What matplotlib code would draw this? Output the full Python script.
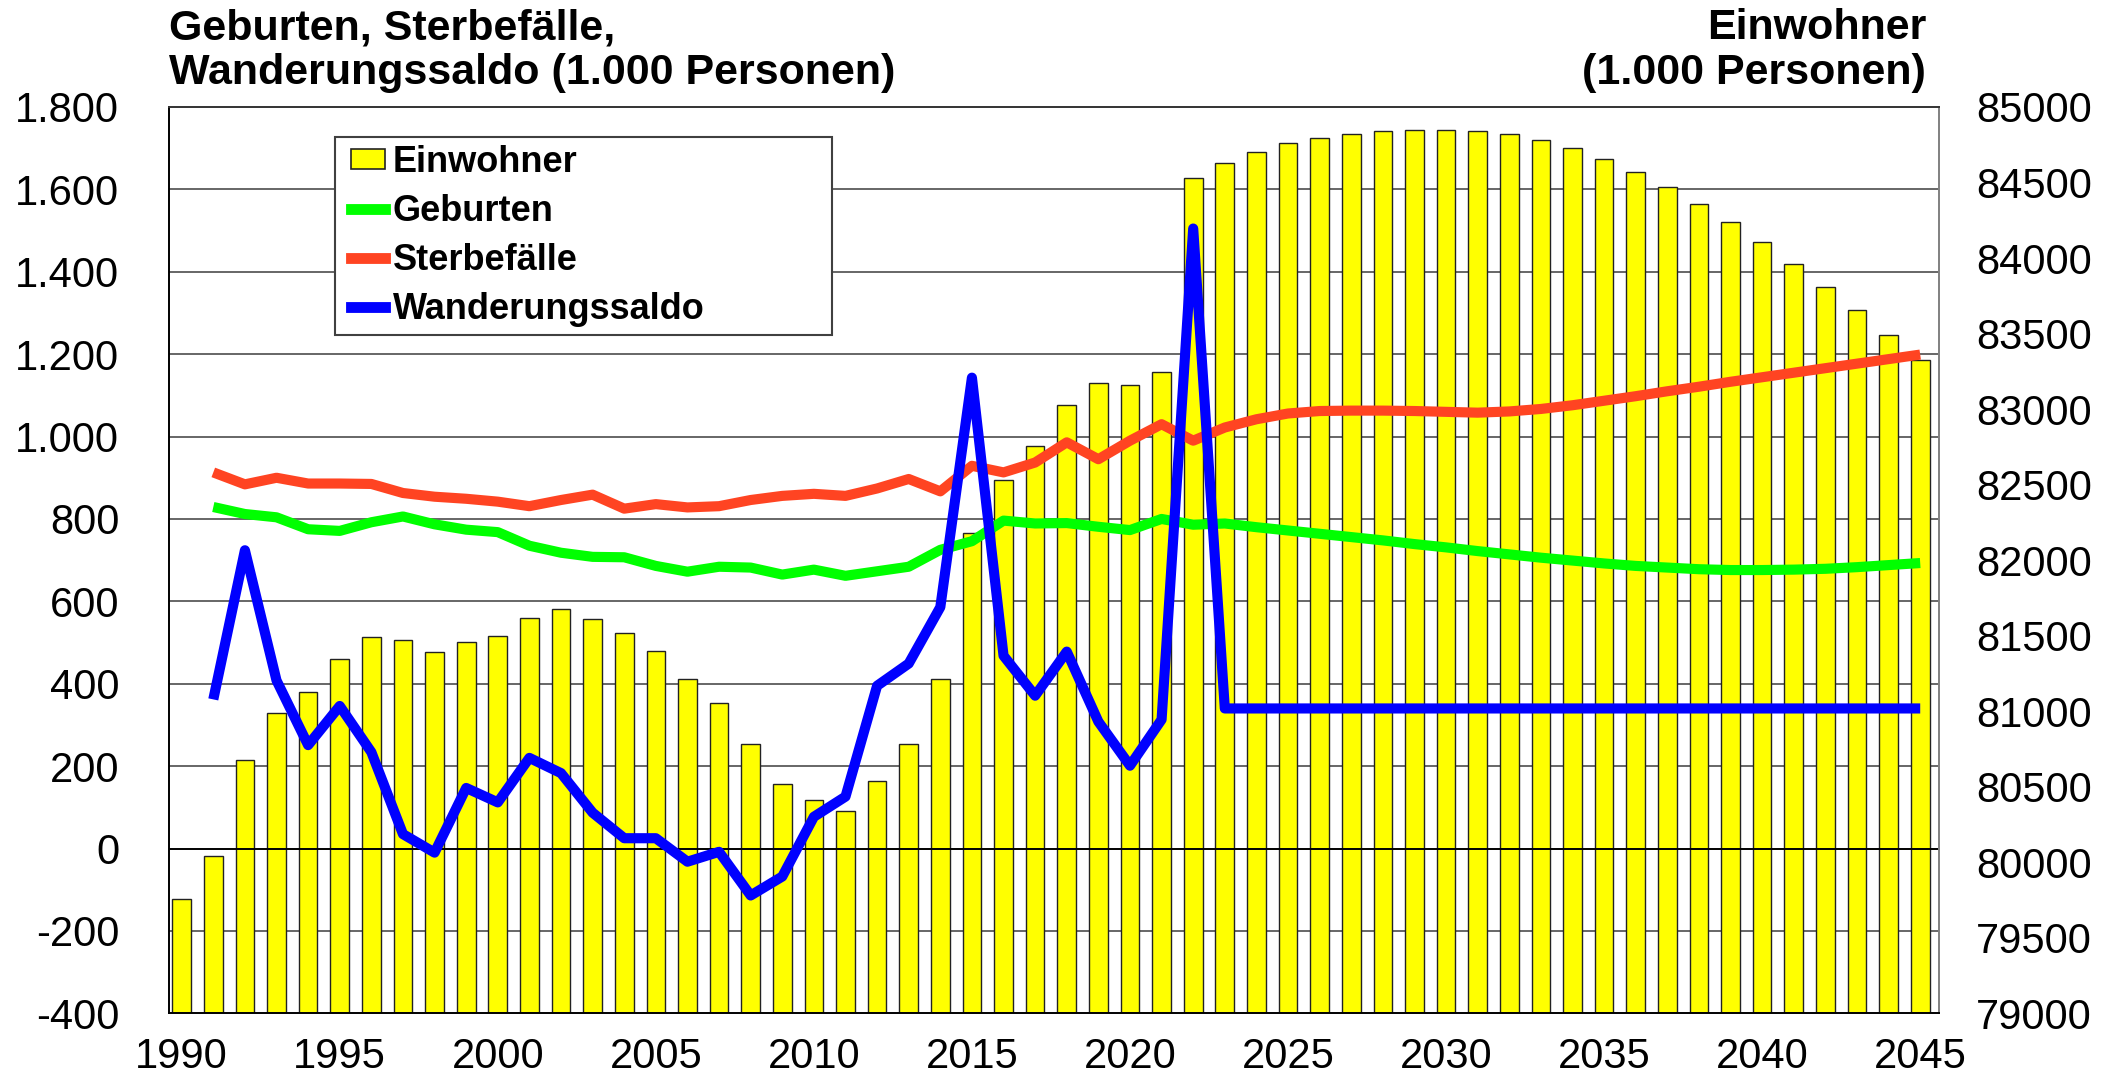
import matplotlib
matplotlib.use('Agg')
import matplotlib.pyplot as plt
import matplotlib.transforms as mtransforms
from matplotlib.lines import Line2D
from matplotlib.patches import Patch
from matplotlib.legend_handler import HandlerPatch, HandlerLine2D
from matplotlib.ticker import FuncFormatter

# ---------------- data ----------------
years = list(range(1990, 2046))
einwohner = [79760, 80040, 80680, 80990, 81125, 81345, 81490, 81470, 81390, 81455,
             81495, 81620, 81675, 81610, 81520, 81400, 81215, 81055, 80780, 80520,
             80410, 80340, 80540, 80780, 81215, 82180, 82530, 82755, 83025, 83170,
             83160, 83245, 84528, 84627, 84705, 84762, 84797, 84824, 84838, 84845,
             84845, 84838, 84820, 84780, 84727, 84656, 84570, 84473, 84358, 84237,
             84103, 83960, 83811, 83655, 83491, 83322]

line_years = list(range(1991, 2046))
geburten = [829, 812, 804, 775, 771, 792, 806, 787, 774, 768,
            735, 718, 708, 707, 686, 672, 684, 682, 665, 677,
            662, 673, 684, 725, 746, 796, 789, 790, 781, 773,
            800, 786, 789, 780, 772, 764, 756, 748, 739, 731,
            722, 714, 706, 699, 692, 686, 682, 678, 676, 676,
            677, 679, 683, 688, 693]
sterbefaelle = [913, 884, 900, 886, 886, 885, 863, 854, 849, 842,
                831, 846, 859, 825, 836, 828, 831, 846, 856, 861,
                856, 874, 897, 867, 929, 913, 937, 986, 945, 990,
                1030, 990, 1022, 1042, 1056, 1062, 1063, 1063, 1062, 1060,
                1058, 1061, 1067, 1076, 1087, 1098, 1110, 1121, 1133, 1144,
                1155, 1166, 1177, 1188, 1199]
wanderungssaldo = [362, 724, 408, 251, 346, 234, 35, -10, 147, 112,
                   220, 183, 87, 25, 25, -32, -8, -114, -68, 77,
                   126, 395, 449, 586, 1143, 468, 371, 478, 308, 201,
                   313, 1505, 340, 340, 340, 340, 340, 340, 340, 340,
                   340, 340, 340, 340, 340, 340, 340, 340, 340, 340,
                   340, 340, 340, 340, 340]

labels = ['Einwohner', 'Geburten', 'Sterbefälle', 'Wanderungssaldo']
left_ticks = list(range(-400, 1801, 200))
right_ticks = list(range(79000, 85001, 500))
x_ticks = list(range(1990, 2046, 5))

# ---------------- style ----------------
plt.rcParams['font.family'] = ['Liberation Sans', 'DejaVu Sans']
YELLOW = '#FFFF00'
GREEN = '#00FF00'
RED = '#FF4422'
BLUE = '#0000FF'

W, H = 2117, 1076
fig = plt.figure(figsize=(W / 100, H / 100), dpi=100)
fig.patch.set_facecolor('white')

ax = fig.add_axes([169.3 / W, 1 - 1013.3 / H, (1938.7 - 169.3) / W, (1013.3 - 107) / H])
ax2 = ax.twinx()
ax.set_zorder(3)
ax.patch.set_visible(False)
ax2.set_zorder(2)

ax.set_xlim(1989.608, 2045.585)
ax.set_ylim(-400, 1800)
ax2.set_ylim(79000, 85000)

# gridlines (left scale) behind the bars
trans = mtransforms.blended_transform_factory(ax2.transAxes, ax.transData)
for v in left_ticks[1:-1]:
    if v != 0:
        ax2.add_line(Line2D([0, 1], [v, v], transform=trans, color='#5a5a5a',
                            lw=1.3, zorder=0.5))

# bars (right scale)
base = right_ticks[0]
ax2.bar(years, [v - base for v in einwohner], bottom=base, width=0.59,
        color=YELLOW, edgecolor='#222222', linewidth=1.0, zorder=2)

# zero line
ax.axhline(0, color='black', lw=1.4, zorder=1)

# lines (left scale)
lw = 7.3
ax.plot(line_years, geburten, color=GREEN, lw=lw, solid_joinstyle='round',
        solid_capstyle='butt', zorder=4)
ax.plot(line_years, sterbefaelle, color=RED, lw=lw, solid_joinstyle='round',
        solid_capstyle='butt', zorder=5)
ax.plot(line_years, wanderungssaldo, color=BLUE, lw=lw, solid_joinstyle='round',
        solid_capstyle='butt', zorder=6)

# ticks
ax.set_xticks(x_ticks)
ax.set_yticks(left_ticks)
ax.yaxis.set_major_formatter(FuncFormatter(lambda v, p: f'{int(v):,}'.replace(',', '.')))
ax.tick_params(axis='x', length=0, pad=17, labelsize=30)
ax.tick_params(axis='y', length=0, pad=36, labelsize=30)
ax2.set_yticks(right_ticks)
ax2.tick_params(axis='y', length=0, pad=27, labelsize=30)

# spines
for s in ax2.spines.values():
    s.set_visible(False)
ax.spines['left'].set_color('black')
ax.spines['bottom'].set_color('black')
ax.spines['top'].set_color('#333333')
ax.spines['right'].set_color('#808080')
for s in ax.spines.values():
    s.set_linewidth(1.4)

# legend
handles = [Patch(facecolor=YELLOW, edgecolor='#222222', linewidth=1.2),
           Line2D([], [], color=GREEN, lw=7.8),
           Line2D([], [], color=RED, lw=7.8),
           Line2D([], [], color=BLUE, lw=7.8)]
leg = ax.legend(handles, labels, loc='upper left',
                bbox_to_anchor=(335 / W, 1 - 332.7 / H, 496.7 / W, 196 / H),
                bbox_transform=fig.transFigure, mode='expand', borderaxespad=0,
                prop={'weight': 'bold', 'size': 26}, frameon=True, fancybox=False,
                edgecolor='#404040', framealpha=1, handlelength=1.15,
                handleheight=0.48, handletextpad=0.22, labelspacing=0.385,
                borderpad=0.23,
                handler_map={Patch: HandlerPatch(xpad=0.22),
                             Line2D: HandlerLine2D(xpad=0.22)})
leg.get_frame().set_linewidth(1.5)

# titles
fig.text(169 / W, 1 - 39 / H, 'Geburten, Sterbefälle,', fontsize=31,
         fontweight='bold', ha='left', va='baseline')
fig.text(169 / W, 1 - 84 / H, 'Wanderungssaldo (1.000 Personen)', fontsize=31,
         fontweight='bold', ha='left', va='baseline')
fig.text(1926 / W, 1 - 39 / H, 'Einwohner', fontsize=31,
         fontweight='bold', ha='right', va='baseline')
fig.text(1926 / W, 1 - 84 / H, '(1.000 Personen)', fontsize=31,
         fontweight='bold', ha='right', va='baseline')

fig.savefig('out.png', dpi=100, facecolor='white')
